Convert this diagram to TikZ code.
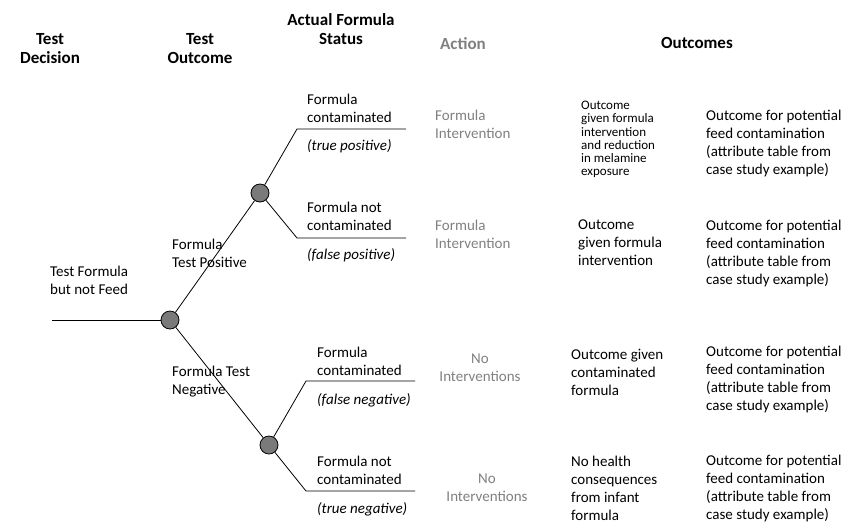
\documentclass[tikz,border=0pt]{standalone}
\usepackage{fontspec}
\setmainfont{Carlito}
\definecolor{actgray}{RGB}{128,128,128}
\definecolor{nodegray}{RGB}{122,122,122}
\begin{document}
\begin{tikzpicture}[x=1pt,y=-1pt,
  hdr/.style={font=\fontsize{17}{19.5}\selectfont\bfseries, align=center, anchor=north, inner sep=0pt},
  txt/.style={font=\fontsize{15}{17.8}\selectfont, align=left, anchor=north west, inner sep=0pt},
  ctxt/.style={font=\fontsize{15}{17.8}\selectfont, align=center, anchor=north, inner sep=0pt},
  small/.style={font=\fontsize{13}{13.2}\selectfont, align=left, anchor=north west, inner sep=0pt},
  act/.style={text=actgray},
  chance/.style={circle, draw=black, fill=nodegray, minimum size=18pt, inner sep=0pt, line width=0.8pt},
  branch/.style={draw=black, line width=0.8pt}
]
\useasboundingbox (0,0) rectangle (848,523);

% headers
\node[hdr] (h1) at (50,33) {Test\\Decision};
\node[hdr] (h2) at (200,33) {Test\\Outcome};
\node[hdr] (h3) at (341,13) {Actual Formula\\Status};
\node[hdr, act] (h4) at (463,37) {Action};
\node[hdr] (h5) at (697,37) {Outcomes};

% tree
\coordinate (s0) at (52,320);
\node[chance] (c0) at (170,320) {};
\node[chance] (c1) at (260,193) {};
\node[chance] (c2) at (269,445) {};
\coordinate (k1) at (297,129);
\coordinate (e1) at (406,129);
\coordinate (k2) at (297,238);
\coordinate (e2) at (406,238);
\coordinate (k3) at (306,381);
\coordinate (e3) at (415,381);
\coordinate (k4) at (306,491);
\coordinate (e4) at (415,491);
\draw[branch] (s0) -- (c0);
\draw[branch] (c0) -- (c1);
\draw[branch] (c0) -- (c2);
\draw[branch] (c1) -- (k1) -- (e1);
\draw[branch] (c1) -- (k2) -- (e2);
\draw[branch] (c2) -- (k3) -- (e3);
\draw[branch] (c2) -- (k4) -- (e4);

% branch labels
\node[txt] (l0) at (50,266) {Test Formula\\but not Feed};
\node[txt] (l1) at (172,239) {Formula\\Test Positive};
\node[txt] (l2) at (172,366) {Formula Test\\Negative};

\node[txt] (f1) at (307,94) {Formula\\contaminated};
\node[txt] (p1) at (307,139) {\itshape (true positive)};
\node[txt] (f2) at (307,202) {Formula not\\contaminated};
\node[txt] (p2) at (307,248) {\itshape (false positive)};
\node[txt] (f3) at (317,347) {Formula\\contaminated};
\node[txt] (p3) at (317,393) {\itshape (false negative)};
\node[txt] (f4) at (317,456) {Formula not\\contaminated};
\node[txt] (p4) at (317,502) {\itshape (true negative)};

% actions
\node[txt, act] (a1) at (435,110) {Formula\\Intervention};
\node[txt, act] (a2) at (435,220) {Formula\\Intervention};
\node[ctxt, act] (a3) at (480,354) {No\\Interventions};
\node[ctxt, act] (a4) at (487,474) {No\\Interventions};

% outcomes
\node[small] (o1) at (581,101) {Outcome\\given formula\\intervention\\and reduction\\in melamine\\exposure};
\node[txt] (o2) at (578,220) {Outcome\\given formula\\intervention};
\node[txt] (o3) at (571,349) {Outcome given\\contaminated\\formula};
\node[txt] (o4) at (571,456) {No health\\consequences\\from infant\\formula};

\node[txt] (q1) at (706,110) {Outcome for potential\\feed contamination\\(attribute table from\\case study example)};
\node[txt] (q2) at (706,220) {Outcome for potential\\feed contamination\\(attribute table from\\case study example)};
\node[txt] (q3) at (706,346) {Outcome for potential\\feed contamination\\(attribute table from\\case study example)};
\node[txt] (q4) at (706,455) {Outcome for potential\\feed contamination\\(attribute table from\\case study example)};
\end{tikzpicture}
\end{document}
